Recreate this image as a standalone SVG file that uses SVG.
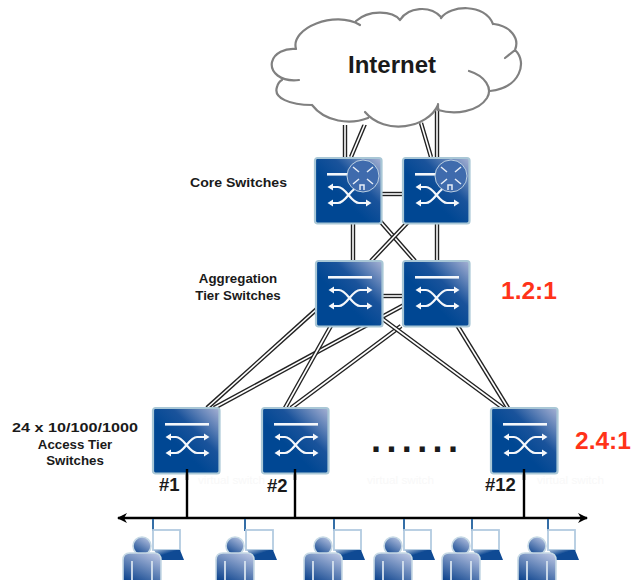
<svg xmlns="http://www.w3.org/2000/svg" width="634" height="580" viewBox="0 0 634 580">
<style>
text{font-family:"Liberation Sans",Arial,sans-serif;font-weight:700;fill:#1a1a1a}
.lbl{font-size:13.3px;text-anchor:middle}
.tag{font-size:18.5px}
.ratio{font-size:24.5px;fill:#ff3319}
.ghost{font-size:11.7px;font-weight:400;fill:#f8f8f8}
.lo{stroke:#222;stroke-width:4.4;fill:none}
.li{stroke:#fff;stroke-width:1.6;fill:none}
.bus{stroke:#000;stroke-width:2.4;fill:none}
.drop{stroke:#1f5f9e;stroke-width:1.8;fill:none}
.cloud{fill:none;stroke:#808080;stroke-width:2.2;stroke-linecap:round}
.sw-w{stroke:#f4f7fb;stroke-width:2.2;fill:none}
.rt-w{stroke:#e6edf6;stroke-width:1.5;fill:none}
</style>
<defs>
<linearGradient id="swg" x1="1" y1="0" x2="0.4" y2="0.6"><stop offset="0" stop-color="#a8b2d4"/><stop offset="0.6" stop-color="#1a539b"/><stop offset="1" stop-color="#004793"/></linearGradient>
<linearGradient id="pg" x1="0.8" y1="0" x2="0.2" y2="1"><stop offset="0" stop-color="#b5c1e0"/><stop offset="1" stop-color="#10468f"/></linearGradient>
<linearGradient id="lg" x1="1" y1="1" x2="0" y2="0"><stop offset="0" stop-color="#0f4a94"/><stop offset="0.6" stop-color="#0f4a94"/><stop offset="1" stop-color="#a6bcd8"/></linearGradient>
<marker id="ah" viewBox="0 0 10 10" refX="9" refY="5" markerWidth="10" markerHeight="10" markerUnits="userSpaceOnUse" orient="auto-start-reverse"><path d="M0 0L10 5L0 10L3 5Z" fill="#000"/></marker>
<g id="switch">
<rect x="1" y="1" width="66.5" height="65.5" rx="2.5" fill="url(#swg)" stroke="#a9c7d6" stroke-width="2.2"/>
<rect x="13" y="16" width="44" height="2.6" fill="#f4f7fb"/>
<path class="sw-w" d="M17 30H24C32 30 37 46 45 46H54M17 46H24C32 46 37 30 45 30H54"/>
<path fill="#f4f7fb" d="M13.5 30L19 26.5V33.5ZM13.5 46L19 42.5V49.5ZM57.5 30L52 26.5V33.5ZM57.5 46L52 42.5V49.5Z"/>
</g>
<g id="router">
<circle cx="49" cy="19" r="16" fill="#3f6bad" stroke="#bcd0e2" stroke-width="1"/>
<path class="rt-w" d="M39 10L45 15M59 10L53 15M39 27L45 22M59 27L53 22M46 33V28H50V33"/>
</g>
<g id="user">
<rect x="11" y="-16" width="27" height="20" fill="#fff" stroke="#b3cbe0" stroke-width="1.8"/>
<path d="M12 4H38L42 14H18Z" fill="url(#lg)"/>
<circle cx="0" cy="0" r="9" fill="url(#pg)" stroke="#c6d9e5" stroke-width="1.6"/>
<path d="M-19 36V14Q-19 7 -12 7H12Q19 7 19 14V36Z" fill="url(#pg)" stroke="#c6d9e5" stroke-width="1.6"/>
<path d="M-10 36V15M10 36V15" stroke="#d5e2ee" stroke-width="1.8" fill="none"/>
</g>
</defs>
<rect width="634" height="580" fill="#fff"/>
<g id="connectors">
<path class="lo" d="M345 125V160"/><path class="li" d="M345 125V160"/>
<path class="lo" d="M367 119L351 157"/><path class="li" d="M367 119L351 157"/>
<path class="lo" d="M421 123L431 157"/><path class="li" d="M421 123L431 157"/>
<path class="lo" d="M437 107V157"/><path class="li" d="M437 107V157"/>
<path class="lo" d="M380 194H404"/><path class="li" d="M380 194H404"/>
<path class="lo" d="M353 222V262"/><path class="li" d="M353 222V262"/>
<path class="lo" d="M437 222V262"/><path class="li" d="M437 222V262"/>
<path class="lo" d="M380 221L415 261"/><path class="li" d="M380 221L415 261"/>
<path class="lo" d="M408 222L371 261"/><path class="li" d="M408 222L371 261"/>
<path class="lo" d="M380 296H404"/><path class="li" d="M380 296H404"/>
<path class="lo" d="M318 308L207 408"/><path class="li" d="M318 308L207 408"/>
<path class="lo" d="M404 305L214 408"/><path class="li" d="M404 305L214 408"/>
<path class="lo" d="M332 324L285 408"/><path class="li" d="M332 324L285 408"/>
<path class="lo" d="M401 326L291 408"/><path class="li" d="M401 326L291 408"/>
<path class="lo" d="M380 317L503 408"/><path class="li" d="M380 317L503 408"/>
<path class="lo" d="M457 325L508 408"/><path class="li" d="M457 325L508 408"/>
<path class="bus" d="M187 469V518M295 469V518M524 469V518"/>
<path class="bus" d="M118 518H587" marker-start="url(#ah)" marker-end="url(#ah)"/>
<path class="drop" d="M153 519V531M245 519V531M334 519V531M404 519V531M472 519V531M548 519V531"/>
</g>
<g id="cloud">
<path fill="#fff" d="M298 80L272 63L295 48L360 22L400 18L441 16L493 24L515 48L522 67L490 90L483 107L438 108L393 128L340 122L310 105L277 90Z"/>
<path class="cloud" d="M299 80C280 82 270 72 272 62C274 53 285 48 296 49M296 49C290 28 335 10 360 25M356 21C368 10 392 10 400 20M400 20C408 7 430 5 441 17M441 18C450 5 485 3 493 24M494 24C510 26 520 38 515 50L505 58M515 50C528 62 520 88 490 91M469 71C485 76 493 88 487 98C478 112 455 115 438 110L438 104M438 105C428 128 385 136 365 112M368 118C350 125 325 122 312 105M312 105C290 105 273 98 277 87C278 83 280 81 282 80"/>
<text x="392" y="73" text-anchor="middle" style="font-size:24px">Internet</text>
</g>
<g id="core-1" transform="translate(314,157)"><use href="#switch"/><use href="#router"/></g>
<g id="core-2" transform="translate(402,157)"><use href="#switch"/><use href="#router"/></g>
<g id="agg-1" transform="translate(315,260)"><use href="#switch"/></g>
<g id="agg-2" transform="translate(402,260)"><use href="#switch"/></g>
<g id="access-1" transform="translate(152,407)"><use href="#switch"/></g>
<g id="access-2" transform="translate(261,407)"><use href="#switch"/></g>
<g id="access-12" transform="translate(490,407)"><use href="#switch"/></g>
<path class="bus" d="M187 469V480M295 469V480M524 469V480"/>
<g id="users">
<use href="#user" x="142" y="546"/>
<use href="#user" x="235" y="546"/>
<use href="#user" x="323" y="546"/>
<use href="#user" x="393" y="546"/>
<use href="#user" x="461" y="546"/>
<use href="#user" x="537" y="546"/>
</g>
<g id="labels">
<text x="238.5" y="187" class="lbl" textLength="97" lengthAdjust="spacingAndGlyphs">Core Switches</text>
<text x="238" y="283" class="lbl">Aggregation</text>
<text x="238" y="300" class="lbl">Tier Switches</text>
<text x="75" y="432" class="lbl" textLength="126" lengthAdjust="spacingAndGlyphs">24 x 10/100/1000</text>
<text x="75" y="449" class="lbl">Access Tier</text>
<text x="75" y="465" class="lbl">Switches</text>
<text x="159" y="491" class="tag">#1</text>
<text x="267" y="492" class="tag">#2</text>
<text x="485" y="491" class="tag">#12</text>
<text x="371" y="452" style="font-size:36px;letter-spacing:5.4px">......</text>
<text x="501" y="299" class="ratio">1.2:1</text>
<text x="575" y="449" class="ratio">2.4:1</text>
<text x="198" y="484" class="ghost">virtual switch</text>
<text x="367" y="484" class="ghost">virtual switch</text>
<text x="537" y="484" class="ghost">virtual switch</text>
</g>
</svg>
